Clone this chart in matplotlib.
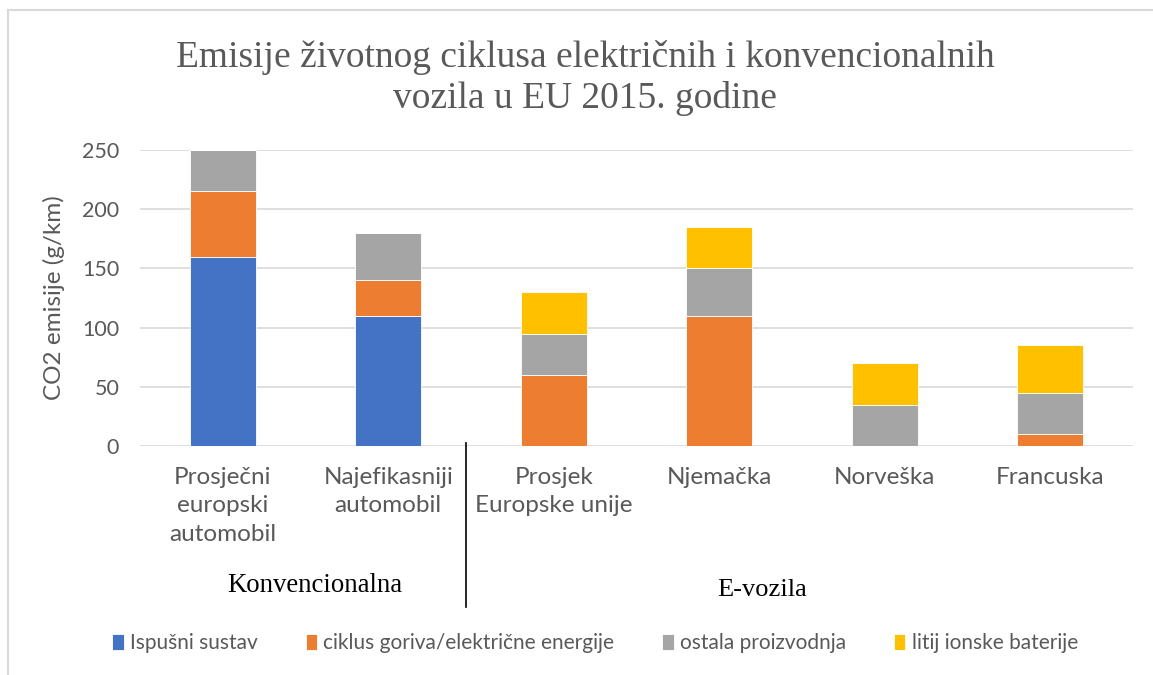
import matplotlib.pyplot as plt
import numpy as np
from matplotlib.lines import Line2D

categories = ['Prosječni\neuropski\nautomobil', 'Najefikasniji\nautomobil',
              'Prosjek\nEuropske unije', 'Njemačka', 'Norveška', 'Francuska']
ispusni = [160, 110, 0, 0, 0, 0]
ciklus = [55, 30, 60, 110, 0, 10]
ostala = [35, 40, 35, 40, 35, 35]
litij = [0, 0, 35, 35, 35, 40]
series_names = ['Ispušni sustav', 'ciklus goriva/električne energije',
                'ostala proizvodnja', 'litij ionske baterije']
colors = ['#4472c4', '#ed7d31', '#a5a5a5', '#ffc000']
yticks = [0, 50, 100, 150, 200, 250]

W, H = 1153, 675
fig = plt.figure(figsize=(W / 100, H / 100), dpi=100)
ax = fig.add_axes([140 / W, 1 - 446 / H, (1133 - 140) / W, (446 - 150) / H])

x = np.arange(len(categories))
bottom = np.zeros(len(categories))
for vals, name, c in zip([ispusni, ciklus, ostala, litij], series_names, colors):
    ax.bar(x, vals, 0.4, bottom=bottom, color=c, label=name, zorder=3,
           edgecolor='white', linewidth=0.6)
    bottom += np.array(vals)

ax.set_xlim(-0.5, len(categories) - 0.5)
ax.set_ylim(0, 250)
ax.set_yticks(yticks)
ax.grid(axis='y', color='#d9d9d9', linewidth=1.2, zorder=0)
for s in ax.spines.values():
    s.set_visible(False)
ax.tick_params(length=0, colors='#595959')
ax.tick_params(axis='y', pad=15, labelsize=15.5)
ax.tick_params(axis='x', pad=15, labelsize=17.5)
ax.set_xticks(x)
ax.set_xticklabels(categories, linespacing=1.45, family='Lato')
for t in ax.get_yticklabels():
    t.set_family('Lato')
ax.set_ylabel('CO2 emisije (g/km)', fontsize=17.5, color='#595959',
              family='Lato', labelpad=12)

fig.text(585 / W, 1 - 78 / H,
         'Emisije životnog ciklusa električnih i konvencionalnih\nvozila u EU 2015. godine',
         ha='center', va='center', fontsize=27, color='#595959',
         family='Liberation Serif', linespacing=1.25)

fig.text(315 / W, 1 - 585 / H, 'Konvencionalna', ha='center', va='center',
         fontsize=19.3, family='Liberation Serif', color='black')
fig.text(762 / W, 1 - 590 / H, 'E-vozila', ha='center', va='center',
         fontsize=19, family='Liberation Serif', color='black')
fig.add_artist(Line2D([466 / W, 466 / W], [1 - 443 / H, 1 - 607 / H],
                      color='black', linewidth=1.2))

# chart border
fig.add_artist(Line2D([8 / W, 1.0], [1 - 10 / H, 1 - 10 / H], color='#d9d9d9', linewidth=1.5))
fig.add_artist(Line2D([8 / W, 8 / W], [1 - 10 / H, 0], color='#d9d9d9', linewidth=1.5))

leg = fig.legend(loc='center', bbox_to_anchor=(595 / W, 1 - 643 / H), ncol=4,
                 frameon=False, handlelength=0.55, handleheight=0.8,
                 handletextpad=0.3, columnspacing=2.3,
                 prop={'family': 'Lato', 'size': 15})
for t in leg.get_texts():
    t.set_color('#595959')

fig.savefig('out.png', dpi=100)
